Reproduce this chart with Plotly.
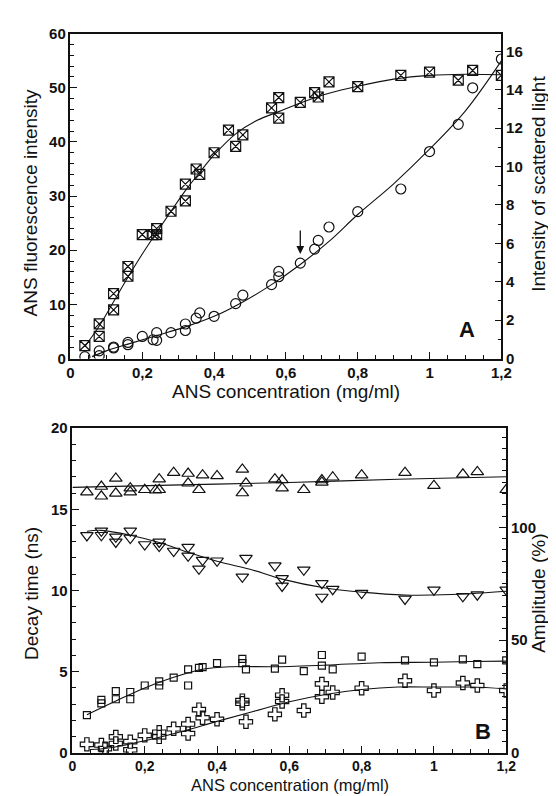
import plotly.graph_objects as go

# ---------------- Panel A data ----------------
# Fluorescence (crossed squares, left axis)
a_sq_x = [0.04, 0.08, 0.08, 0.12, 0.12, 0.16, 0.16, 0.20, 0.23, 0.24, 0.24, 0.28, 0.32, 0.32,
          0.35, 0.36, 0.40, 0.44, 0.46, 0.48, 0.56, 0.58, 0.58, 0.64, 0.68, 0.69, 0.72, 0.80,
          0.92, 1.00, 1.08, 1.12, 1.20]
a_sq_y = [2.4, 6.4, 4.1, 12.0, 9.0, 17.0, 15.2, 22.9, 22.9, 24.0, 22.9, 27.2, 29.1, 32.2,
          35.0, 34.0, 38.0, 42.2, 39.2, 41.3, 46.3, 48.2, 44.4, 47.3, 49.1, 48.3, 51.1, 50.2,
          52.3, 52.9, 51.4, 53.2, 52.3]
a_sq_fit_x = [0.04, 0.08, 0.12, 0.16, 0.20, 0.24, 0.28, 0.32, 0.36, 0.40, 0.46, 0.52, 0.58,
              0.64, 0.72, 0.80, 0.90, 1.00, 1.10, 1.20]
a_sq_fit_y = [2.2, 6.0, 10.5, 15.0, 19.3, 23.3, 27.2, 31.0, 34.4, 37.6, 41.5, 44.0, 45.6,
              47.2, 49.0, 50.3, 51.6, 52.3, 52.5, 52.4]

# Scattered light (open circles, right axis)
a_ci_x = [0.04, 0.08, 0.08, 0.12, 0.12, 0.16, 0.16, 0.20, 0.23, 0.24, 0.24, 0.28, 0.32, 0.32,
          0.35, 0.36, 0.40, 0.46, 0.48, 0.56, 0.58, 0.58, 0.64, 0.68, 0.69, 0.72, 0.80, 0.92,
          1.00, 1.08, 1.12, 1.20]
a_ci_y = [0.1, 0.4, 0.15, 0.55, 0.6, 0.84, 0.72, 1.15, 0.98, 1.35, 0.95, 1.35, 1.8, 1.46,
          2.1, 2.38, 2.2, 2.86, 3.3, 3.85, 4.54, 4.26, 4.97, 5.7, 6.15, 6.85, 7.65, 8.83,
          10.78, 12.2, 14.1, 15.6]
a_ci_fit_x = [0.06, 0.10, 0.16, 0.24, 0.32, 0.40, 0.48, 0.56, 0.64, 0.72, 0.80, 0.90, 1.00,
              1.10, 1.20]
a_ci_fit_y = [0.1, 0.4, 0.75, 1.2, 1.65, 2.2, 2.95, 3.85, 4.9, 6.1, 7.5, 9.1, 10.9, 12.9, 15.5]

# ---------------- Panel B data ----------------
# Long decay time (up triangles, ns)
b_up_x = [0.04, 0.08, 0.08, 0.12, 0.12, 0.16, 0.16, 0.20, 0.23, 0.24, 0.24, 0.28, 0.32, 0.32,
          0.35, 0.36, 0.40, 0.47, 0.47, 0.48, 0.56, 0.58, 0.58, 0.64, 0.69, 0.69, 0.72, 0.80,
          0.92, 1.00, 1.08, 1.12, 1.20]
b_up_y = [16.06, 16.4, 15.8, 16.9, 15.98, 16.3, 16.05, 16.2, 16.17, 16.2, 16.85, 17.25, 17.2,
          16.6, 16.2, 17.1, 17.05, 17.45, 16.0, 16.6, 16.85, 16.8, 16.3, 16.2, 16.65, 16.8,
          16.97, 17.1, 17.25, 16.45, 17.15, 17.3, 16.2]
b_up_fit_x = [0.0, 0.3, 0.6, 0.9, 1.2]
b_up_fit_y = [16.35, 16.5, 16.65, 16.85, 17.0]

# Second decay time (down triangles, ns)
b_dn_x = [0.04, 0.08, 0.08, 0.12, 0.12, 0.16, 0.16, 0.20, 0.24, 0.24, 0.28, 0.32, 0.32, 0.35,
          0.36, 0.40, 0.47, 0.48, 0.56, 0.58, 0.58, 0.64, 0.69, 0.69, 0.72, 0.80, 0.92, 1.00,
          1.08, 1.12, 1.20]
b_dn_y = [13.39, 13.67, 13.4, 13.3, 12.99, 13.67, 13.23, 12.83, 12.99, 12.73, 12.43, 12.67,
          12.13, 11.33, 11.87, 11.83, 10.84, 11.99, 11.53, 10.74, 10.28, 11.27, 10.44, 9.6,
          10.08, 9.84, 9.48, 10.04, 9.64, 9.74, 10.04]
b_dn_fit_x = [0.04, 0.08, 0.16, 0.24, 0.32, 0.40, 0.50, 0.58, 0.70, 0.80, 0.92, 1.00, 1.10, 1.20]
b_dn_fit_y = [13.65, 13.7, 13.4, 12.95, 12.35, 11.8, 11.25, 10.7, 10.15, 9.9, 9.72, 9.72, 9.8, 9.95]

# Amplitude (open squares, %)
b_sq_x = [0.04, 0.08, 0.08, 0.12, 0.12, 0.16, 0.16, 0.20, 0.24, 0.24, 0.28, 0.32, 0.32, 0.35,
          0.36, 0.40, 0.47, 0.47, 0.48, 0.56, 0.58, 0.64, 0.69, 0.69, 0.72, 0.80, 0.92, 1.00,
          1.08, 1.12, 1.20]
b_sq_y = [16.8, 23.5, 22.0, 23.8, 27.4, 27.0, 23.8, 29.9, 29.9, 31.7, 33.4, 37.0, 29.9, 37.7,
          38.0, 39.8, 41.7, 39.8, 37.0, 37.4, 41.4, 36.3, 38.7, 43.4, 37.0, 42.7, 41.0, 40.1,
          41.5, 39.4, 41.0]
b_sq_fit_x = [0.04, 0.12, 0.20, 0.28, 0.36, 0.44, 0.56, 0.70, 0.85, 1.00, 1.10, 1.20]
b_sq_fit_y = [16.9, 23.0, 28.8, 33.5, 37.1, 38.2, 38.2, 38.9, 40.0, 40.2, 40.5, 40.7]

# Amplitude (open crosses, %)
b_cr_x = [0.04, 0.08, 0.09, 0.12, 0.12, 0.16, 0.16, 0.20, 0.24, 0.24, 0.28, 0.32, 0.32, 0.35,
          0.36, 0.40, 0.47, 0.47, 0.48, 0.56, 0.58, 0.58, 0.64, 0.69, 0.69, 0.72, 0.80, 0.92,
          1.00, 1.08, 1.12, 1.20]
b_cr_y = [3.8, 3.5, 1.9, 4.2, 7.1, 5.0, 1.4, 7.8, 7.1, 9.2, 10.7, 12.8, 8.6, 19.2, 15.6, 14.9,
          23.2, 22.0, 13.8, 17.1, 22.8, 25.6, 18.8, 24.9, 30.6, 26.8, 28.7, 32.0, 27.7, 31.0,
          29.9, 27.7]
b_cr_fit_x = [0.05, 0.10, 0.20, 0.30, 0.40, 0.50, 0.60, 0.70, 0.80, 0.90, 1.00, 1.10, 1.20]
b_cr_fit_y = [1.5, 2.2, 5.4, 9.4, 14.0, 18.4, 22.7, 25.9, 28.1, 29.2, 29.2, 29.2, 28.4]

# Tick labels
x_tickvals = [0, 0.2, 0.4, 0.6, 0.8, 1.0, 1.2]
x_ticktext = ["0", "0,2", "0,4", "0,6", "0,8", "1", "1,2"]

# ---------------- Figure ----------------
FONT = "Liberation Sans, Arial, sans-serif"
BLACK = "#111111"

fig = go.Figure()


def marks(x, y, symbol, size, xa, ya):
    fig.add_trace(go.Scatter(x=x, y=y, mode="markers", xaxis=xa, yaxis=ya,
                             marker=dict(symbol=symbol, size=size, color=BLACK,
                                         line=dict(color=BLACK, width=1.2)),
                             hoverinfo="skip"))


def curve(x, y, xa, ya):
    fig.add_trace(go.Scatter(x=x, y=y, mode="lines", xaxis=xa, yaxis=ya,
                             line=dict(color=BLACK, width=1.1, shape="spline", smoothing=1.0),
                             hoverinfo="skip"))


curve(a_sq_fit_x, a_sq_fit_y, "x", "y")
marks(a_sq_x, a_sq_y, "square-x-open", 10, "x", "y")
curve(a_ci_fit_x, a_ci_fit_y, "x", "y2")
marks(a_ci_x, a_ci_y, "circle-open", 10, "x", "y2")

curve(b_up_fit_x, b_up_fit_y, "x2", "y3")
marks(b_up_x, b_up_y, "triangle-up-open", 11, "x2", "y3")
curve(b_dn_fit_x, b_dn_fit_y, "x2", "y3")
marks(b_dn_x, b_dn_y, "triangle-down-open", 11, "x2", "y3")
curve(b_sq_fit_x, b_sq_fit_y, "x2", "y4")
marks(b_sq_x, b_sq_y, "square-open", 7, "x2", "y4")
curve(b_cr_fit_x, b_cr_fit_y, "x2", "y4")
marks(b_cr_x, b_cr_y, "cross-open", 11, "x2", "y4")

tickfont = dict(family=FONT, size=15, color=BLACK, weight="bold")
common = dict(showgrid=False, zeroline=False, showline=True, linecolor=BLACK, linewidth=1.5,
              ticks="inside", ticklen=7, tickwidth=1.2, tickcolor=BLACK, tickfont=tickfont)
common_xb = dict(common, tickfont=dict(family=FONT, size=14, color=BLACK, weight="bold"))


def minor(d, t0=0):
    return dict(tickmode="linear", tick0=t0, dtick=d, ticks="inside", ticklen=4,
                tickwidth=1, tickcolor=BLACK, showgrid=False)


fig.update_layout(
    width=556, height=796,
    margin=dict(l=0, r=0, t=0, b=0),
    paper_bgcolor="white", plot_bgcolor="white",
    showlegend=False,
    xaxis=dict(domain=[60 / 556, 502 / 556], range=[0, 1.2], anchor="y", mirror=True,
               tickmode="array", tickvals=x_tickvals, ticktext=x_ticktext,
               minor=minor(0.05), **common),
    yaxis=dict(domain=[1 - 349 / 796, 1 - 17 / 796], range=[0, 60], anchor="x",
               tickmode="linear", tick0=0, dtick=10, minor=minor(2), **common),
    yaxis2=dict(overlaying="y", side="right", anchor="x", range=[0, 16.92],
                tickmode="linear", tick0=0, dtick=2, minor=minor(1), **common),
    xaxis2=dict(domain=[62 / 556, 507 / 556], range=[0, 1.2], anchor="y3", mirror=True,
                tickmode="array", tickvals=x_tickvals, ticktext=x_ticktext,
                minor=minor(0.05), **common_xb),
    yaxis3=dict(domain=[1 - 752 / 796, 1 - 420 / 796], range=[0, 20], anchor="x2",
                tickmode="linear", tick0=0, dtick=5, minor=minor(1), **common),
    yaxis4=dict(overlaying="y3", side="right", anchor="x2", range=[0, 144],
                tickmode="array", tickvals=[0, 50, 100], ticktext=["0", "50", "100"],
                minor=minor(5), **common),
)

titlefont = dict(family=FONT, size=19, color=BLACK)
annots = [
    dict(text="ANS concentration (mg/ml)", x=281 / 556, y=1 - 383 / 796),
    dict(text="ANS concentration (mg/ml)", x=285 / 556, y=1 - 785 / 796,
         font=dict(family=FONT, size=16.5, color=BLACK)),
    dict(text="ANS fluorescence intensity", x=19 / 556, y=1 - 190 / 796, textangle=-90),
    dict(text="Intensity of scattered light", x=540 / 556, y=1 - 170 / 796, textangle=-90),
    dict(text="Decay time (ns)", x=20 / 556, y=1 - 589 / 796, textangle=-90),
    dict(text="Amplitude (%)", x=540 / 556, y=1 - 589 / 796, textangle=-90),
]
for a in annots:
    a.setdefault("font", titlefont)
    fig.add_annotation(xref="paper", yref="paper", showarrow=False,
                       xanchor="center", yanchor="middle", **a)

fig.add_annotation(text="A", x=1.105, y=5.45, xref="x", yref="y", showarrow=False,
                   font=dict(family=FONT, size=22, color=BLACK, weight="bold"))
fig.add_annotation(text="B", x=1.137, y=1.3, xref="x2", yref="y3", showarrow=False,
                   font=dict(family=FONT, size=22, color=BLACK, weight="bold"))
# arrow pointing at the circle at 0.64 mg/ml
fig.add_annotation(text="", x=0.64, y=5.45, xref="x", yref="y2",
                   ax=0.64, ay=6.75, axref="x", ayref="y2",
                   showarrow=True, arrowhead=2, arrowsize=1.2, arrowwidth=1.3,
                   arrowcolor=BLACK)

fig.write_html("out.html")
